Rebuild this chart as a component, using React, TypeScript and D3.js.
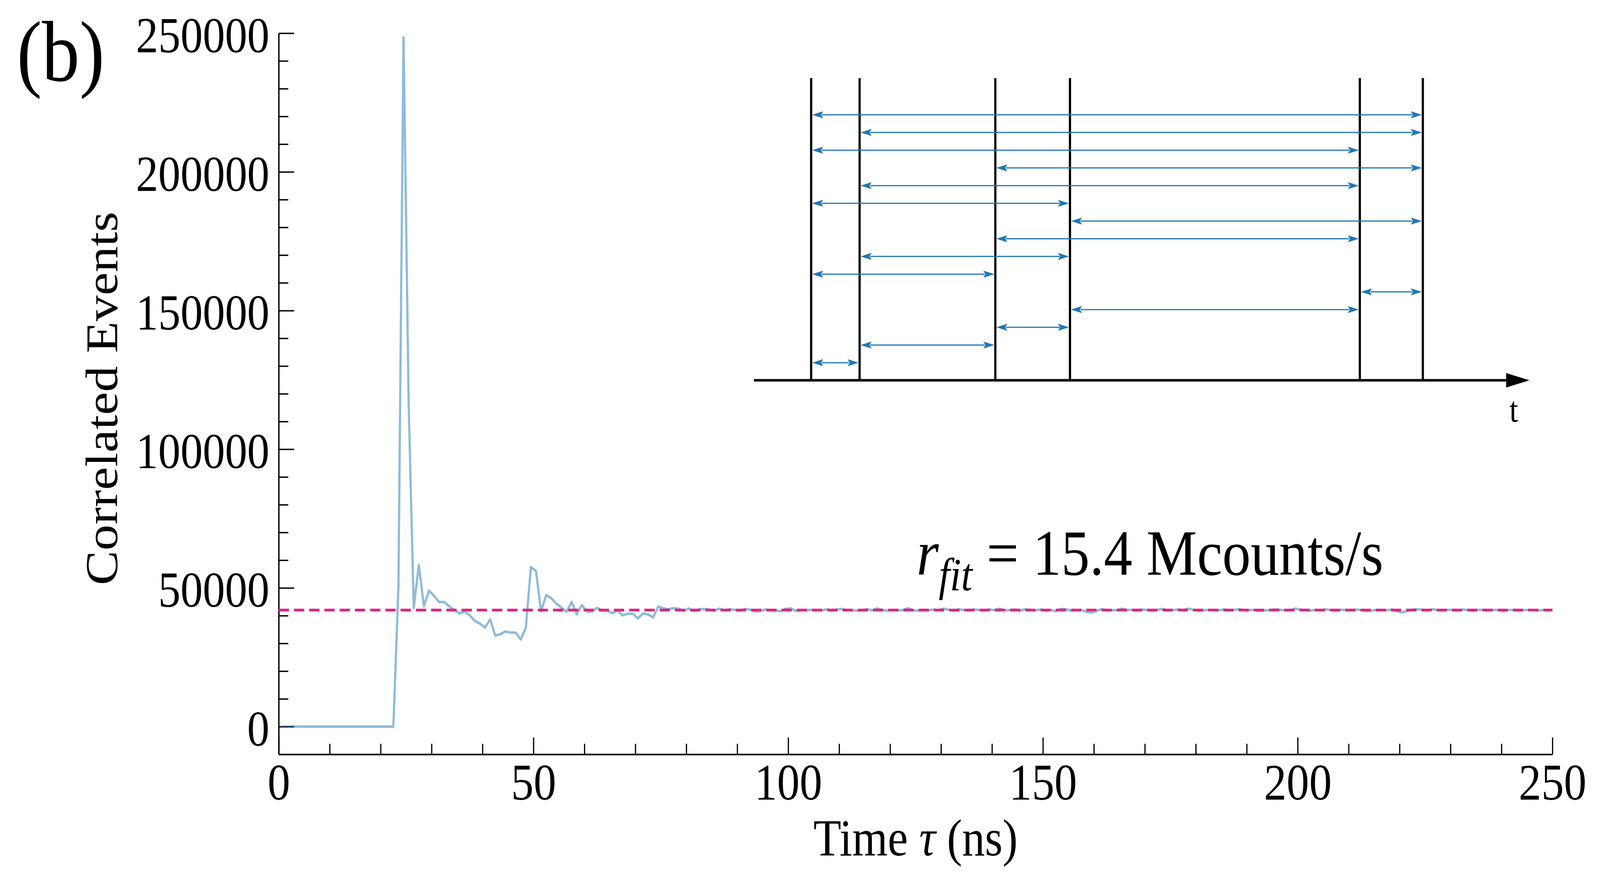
import * as d3 from "d3"
import { useEffect, useRef } from "react"
import * as React from "react"

// correlation histogram, 1 ns bins
const counts = [
  0, 0, 0, 0, 0, 0, 0, 0, 0, 0,
  0, 0, 0, 0, 0, 0, 0, 0, 0, 0,
  0, 0, 0, 50500, 248500, 117000, 42800, 58200, 43400, 49000,
  47100, 44900, 44900, 43300, 41900, 40800, 41500, 40100, 38100, 37100,
  35700, 38700, 32800, 33300, 34300, 33900, 33900, 31400, 35600, 57500,
  56100, 41500, 47400, 46300, 44300, 42900, 41400, 44900, 40500, 43800,
  41500, 41500, 42800, 41800, 41800, 40900, 41800, 40100, 40700, 40700,
  39000, 40800, 40400, 39400, 43300, 42600,
  42300, 42700, 42500, 41700, 42600, 41600, 42300, 42400, 42200, 41800,
  42500, 41900, 42300, 42100, 41700, 42400, 42200, 41500, 41600, 42200,
  42000, 41900, 41600, 42400, 42600, 41700, 42000, 41900, 42100, 42000,
  41800, 42300, 41700, 42200, 42400, 42000, 41900, 41800, 42000, 42300,
  41900, 42600, 42000, 41800, 42100, 41900, 42000, 42700, 41900, 41800,
  42100, 41900, 42200, 42000, 42500, 42100, 41700, 42300, 42000, 42000,
  42200, 42000, 41900, 42200, 42000, 42500, 41900, 42000, 42200, 41800,
  42300, 42100, 41900, 42200, 42000, 42100, 41600, 42400, 42300, 41800,
  41900, 42100, 41400, 41100, 41700, 42300, 42100, 41900, 42000, 42500,
  42100, 42000, 41900, 42200, 42000, 41800, 42100, 42400, 41900, 42000,
  42200, 42000, 42500, 42100, 41800, 41900, 42100, 42000, 41900, 42200,
  42000, 42100, 42300, 41900, 42000, 42100, 41700, 41900, 42000, 42200,
  42100, 41900, 42000, 42500, 42200, 42000, 41800, 42100, 41900, 42300,
  42000, 41800, 42100, 42000, 41900, 42200, 42000, 41700, 41800, 42100,
  42000, 41900, 42200, 41600, 41200, 41700, 42200, 42300, 42100, 41900,
  42300, 42000, 41800, 42100, 42000, 41900, 42200, 42000, 41900, 42100,
  42000, 41900, 42100, 42000, 41800, 42000, 42100, 41900, 42000, 42100,
  42000, 41900, 42000, 41900,
]
const binCenters = counts.map((_, k) => k + 0.5)
const fitLevel = 42000

const xMajorTicks = [0, 50, 100, 150, 200, 250]
const xMinorTicks = d3.range(10, 250, 10).filter(v => v % 50 !== 0)
const yMajorTicks = [0, 50000, 100000, 150000, 200000, 250000]
const yMinorTicks = d3.range(10000, 250000, 10000).filter(v => v % 50000 !== 0)

// inset: photon arrival times (arbitrary units) and the pairs that are correlated
const eventTimes = [0.59, 1.09, 2.49, 3.26, 6.25, 6.9]
const arrowPairs = [
  [0, 5], [1, 5], [0, 4], [2, 5], [1, 4], [0, 3], [3, 5], [2, 4],
  [1, 3], [0, 2], [4, 5], [3, 4], [2, 3], [1, 2], [0, 1],
]

const W = 4673
const H = 2259
const FONT = '"Liberation Serif", "Times New Roman", serif'
const BLUE = "#1f77b4"

export default function App() {
  const axesRef = useRef<SVGGElement>(null)

  const x = d3.scaleLinear().domain([0, 250]).range([814, 4534])
  const y = d3.scaleLinear().domain([-10000, 250000]).range([1932, 85])

  const line = d3.line<number>()
    .x((_, i) => x(binCenters[i]))
    .y(d => y(d))

  // inset scales
  const tx = d3.scaleLinear().domain([0, 8]).range([2202, 4467])
  const rowY = d3.scalePoint<number>().domain(d3.range(arrowPairs.length)).range([294, 929])
  const insetTop = 200
  const insetBase = 974
  const headLen = 32
  const headHalf = 9
  const tipGap = 3

  useEffect(() => {
    document.body.style.margin = "0"
    document.documentElement.style.overflow = "hidden"
    const g = d3.select(axesRef.current)
    g.selectAll("*").remove()

    const yMinor = g.append("g")
      .attr("transform", `translate(${x(0)},0)`)
      .call(d3.axisLeft(y).tickValues(yMinorTicks).tickSize(-28).tickSizeOuter(0).tickFormat(() => ""))
    yMinor.select(".domain").remove()

    const yMajor = g.append("g")
      .attr("transform", `translate(${x(0)},0)`)
      .call(d3.axisLeft(y).tickValues(yMajorTicks).tickSize(-45).tickSizeOuter(0).tickPadding(27).tickFormat(d3.format("d")))

    const xMinor = g.append("g")
      .attr("transform", `translate(0,${y.range()[0]})`)
      .call(d3.axisBottom(x).tickValues(xMinorTicks).tickSize(-27).tickSizeOuter(0).tickFormat(() => ""))
    xMinor.select(".domain").remove()

    const xMajor = g.append("g")
      .attr("transform", `translate(0,${y.range()[0]})`)
      .call(d3.axisBottom(x).tickValues(xMajorTicks).tickSize(-43).tickSizeOuter(0).tickPadding(22).tickFormat(d3.format("d")))

    for (const a of [yMinor, yMajor, xMinor, xMajor]) {
      a.attr("font-family", FONT)
      a.selectAll(".tick line").attr("stroke-width", 3.5)
      a.select(".domain").attr("stroke-width", 4)
    }
    yMajor.attr("font-size", 130).selectAll("text").attr("dy", "0.37em")
    xMajor.attr("font-size", 132)
  }, [])

  return (
    <svg viewBox={`0 0 ${W} ${H}`} preserveAspectRatio="none"
      style={{ display: "block", width: "100vw", height: "100vh", background: "white" }} fontFamily={FONT}>
      <g ref={axesRef} />

      <path d={line(counts)} fill="none" stroke={BLUE} strokeOpacity={0.5} strokeWidth={6.5} strokeLinejoin="round" />
      <line x1={x(0)} x2={x(250)} y1={y(fitLevel)} y2={y(fitLevel)}
        stroke="#de2783" strokeWidth={7} strokeDasharray="30 14.5" />

      {/* labels */}
      <text x={49} y={207} fontSize={220}>(b)</text>
      <text transform={`translate(342,${(y.range()[0] + y.range()[1]) / 2 + 12}) rotate(-90)`}
        textAnchor="middle" fontSize={133}>Correlated Events</text>
      <text x={(x.range()[0] + x.range()[1]) / 2} y={2191} textAnchor="middle" fontSize={133}>
        Time <tspan fontStyle="italic">τ</tspan> (ns)
      </text>
      <text x={2677} y={1472} fontSize={166}>
        <tspan fontStyle="italic">r</tspan>
        <tspan fontStyle="italic" fontSize={118} dy={40}>fit</tspan>
        <tspan dy={-40}> = 15.4 Mcounts/s</tspan>
      </text>

      {/* inset */}
      <g>
        <line x1={tx(0)} x2={tx(8) - 60} y1={insetBase} y2={insetBase} stroke="black" strokeWidth={6.5} />
        <path d={`M${tx(8)},${insetBase}L${tx(8) - 68},${insetBase - 18.5}L${tx(8) - 68},${insetBase + 18.5}Z`} fill="black" />
        <text x={tx(8) - 46} y={1080} textAnchor="middle" fontSize={92}>t</text>
        {eventTimes.map((t, i) => (
          <line key={i} x1={tx(t)} x2={tx(t)} y1={insetTop} y2={insetBase} stroke="black" strokeWidth={6.5} />
        ))}
        {arrowPairs.map(([a, b], i) => {
          const yy = rowY(i)
          const x0 = tx(eventTimes[a]) + tipGap
          const x1 = tx(eventTimes[b]) - tipGap
          return (
            <g key={i} fill={BLUE}>
              <line x1={x0 + headLen - 4} x2={x1 - headLen + 4} y1={yy} y2={yy} stroke={BLUE} strokeWidth={3} />
              <path d={`M${x0},${yy}L${x0 + headLen},${yy - headHalf}L${x0 + headLen - 6},${yy}L${x0 + headLen},${yy + headHalf}Z`} />
              <path d={`M${x1},${yy}L${x1 - headLen},${yy - headHalf}L${x1 - headLen + 6},${yy}L${x1 - headLen},${yy + headHalf}Z`} />
            </g>
          )
        })}
      </g>
    </svg>
  )
}
